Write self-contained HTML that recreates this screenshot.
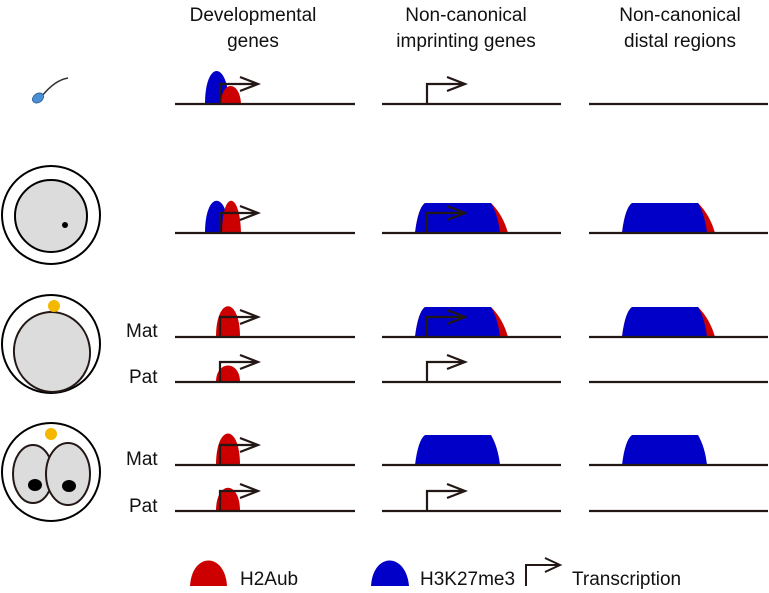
<!DOCTYPE html>
<html><head><meta charset="utf-8"><style>
html,body{margin:0;padding:0;background:#fff}
svg{display:block}
text{font-family:"Liberation Sans",Arial,sans-serif;fill:#111}
</style></head><body>
<svg width="769" height="593" viewBox="0 0 769 593" xmlns="http://www.w3.org/2000/svg">
<defs>
<g id="arr"><path d="M0,0 V-20 H38 M20,-27 L38,-20 L20,-13" fill="none" stroke="#231815" stroke-width="2.2"/></g>
</defs>
<g font-size="19" text-anchor="middle">
<text x="253" y="21">Developmental</text><text x="253" y="47">genes</text>
<text x="466" y="21">Non-canonical</text><text x="466" y="47">imprinting genes</text>
<text x="680" y="21">Non-canonical</text><text x="680" y="47">distal regions</text>
</g>
<!-- sperm -->
<path d="M42,96 Q55,80 68,78" fill="none" stroke="#333" stroke-width="1.5"/>
<ellipse cx="38" cy="98" rx="6" ry="4.5" transform="rotate(-35 38 98)" fill="#4a8fd6" stroke="#2a5c95" stroke-width="0.8"/>
<!-- oocyte -->
<circle cx="51" cy="215" r="49" fill="#fff" stroke="#000" stroke-width="2"/>
<circle cx="51" cy="216" r="36" fill="#dcdcdc" stroke="#000" stroke-width="2"/>
<circle cx="65" cy="225" r="3" fill="#000"/>
<!-- zygote -->
<circle cx="51" cy="344" r="49" fill="#fff" stroke="#000" stroke-width="2"/>
<ellipse cx="52" cy="352" rx="38" ry="40" transform="rotate(-10 52 352)" fill="#dcdcdc" stroke="#231815" stroke-width="2"/>
<circle cx="54" cy="306" r="6" fill="#f5b800"/>
<!-- 2-cell -->
<circle cx="51" cy="472" r="49" fill="#fff" stroke="#000" stroke-width="2"/>
<ellipse cx="33" cy="474" rx="20" ry="29" fill="#dcdcdc" stroke="#231815" stroke-width="2"/>
<ellipse cx="68" cy="474" rx="22" ry="31" fill="#dcdcdc" stroke="#231815" stroke-width="2"/>
<circle cx="51" cy="434" r="6" fill="#f5b800"/>
<ellipse cx="35" cy="485" rx="7" ry="6" fill="#000"/>
<ellipse cx="69" cy="486" rx="7" ry="6" fill="#000"/>
<g font-size="19">
<text x="126" y="337">Mat</text><text x="129" y="383">Pat</text>
<text x="126" y="465">Mat</text><text x="129" y="512">Pat</text>
</g>
<path d="M205,104 C205,60 228,60 229,104 Z" fill="#0000c8"/>
<path d="M221,104 C221,80 240,80 241,104 Z" fill="#cc0000"/>
<path d="M205,233 C205,190 228,190 229,233 Z" fill="#0000c8"/>
<path d="M222,233 C222,190 240,190 241,233 Z" fill="#cc0000"/>
<path d="M216,337 C216,296 240,296 240,337 Z" fill="#cc0000"/>
<path d="M216,382 C216,360 240,360 240,382 Z" fill="#cc0000"/>
<path d="M216,465 C216,423 240,423 240,465 Z" fill="#cc0000"/>
<path d="M216,511 C216,480 240,480 240,511 Z" fill="#cc0000"/>
<g id="blk">
<path d="M415,233 Q418,208 425,203 L491,203 Q503,215 508,233 Z" fill="#cc0000"/>
<path d="M415,233 Q418,208 425,203 L491,203 Q498,215 500,233 Z" fill="#0000c8"/>
</g>
<use href="#blk" x="207"/>
<use href="#blk" y="104"/>
<use href="#blk" x="207" y="104"/>
<path d="M415,465 Q418,440 425,435 L491,435 Q498,447 500,465 Z" fill="#0000c8"/>
<path d="M622,465 Q625,440 632,435 L698,435 Q705,447 707,465 Z" fill="#0000c8"/>
<g stroke="#231815" stroke-width="2.2">
<line x1="175" y1="104" x2="355" y2="104"/><line x1="382" y1="104" x2="561" y2="104"/><line x1="589" y1="104" x2="768" y2="104"/>
<line x1="175" y1="233" x2="355" y2="233"/><line x1="382" y1="233" x2="561" y2="233"/><line x1="589" y1="233" x2="768" y2="233"/>
<line x1="175" y1="337" x2="355" y2="337"/><line x1="382" y1="337" x2="561" y2="337"/><line x1="589" y1="337" x2="768" y2="337"/>
<line x1="175" y1="382" x2="355" y2="382"/><line x1="382" y1="382" x2="561" y2="382"/><line x1="589" y1="382" x2="768" y2="382"/>
<line x1="175" y1="465" x2="355" y2="465"/><line x1="382" y1="465" x2="561" y2="465"/><line x1="589" y1="465" x2="768" y2="465"/>
<line x1="175" y1="511" x2="355" y2="511"/><line x1="382" y1="511" x2="561" y2="511"/><line x1="589" y1="511" x2="768" y2="511"/>
</g>
<use href="#arr" x="220" y="104"/><use href="#arr" x="427" y="104"/>
<use href="#arr" x="220" y="233"/><use href="#arr" x="427" y="233"/>
<use href="#arr" x="220" y="337"/><use href="#arr" x="427" y="337"/>
<use href="#arr" x="220" y="382"/><use href="#arr" x="427" y="382"/>
<use href="#arr" x="220" y="465"/>
<use href="#arr" x="220" y="511"/><use href="#arr" x="427" y="511"/>
<path d="M190,586 C192,552 225,552 227,586 Z" fill="#cc0000"/>
<text x="240" y="585" font-size="19">H2Aub</text>
<path d="M371,586 C373,552 406,552 409,586 Z" fill="#0000c8"/>
<text x="420" y="585" font-size="19">H3K27me3</text>
<path d="M526,586 V565 H560 M545,558 L560,565 L545,572" fill="none" stroke="#231815" stroke-width="2"/>
<text x="572" y="585" font-size="19">Transcription</text>
</svg>
</body></html>
